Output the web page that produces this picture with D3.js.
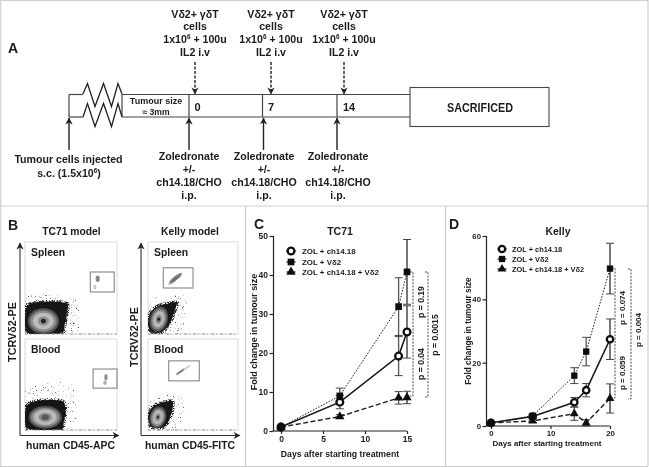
<!DOCTYPE html>
<html><head><meta charset="utf-8">
<script src="https://cdn.jsdelivr.net/npm/d3@7"></script>
<style>
html,body{margin:0;padding:0;background:#fff}
svg{display:block}
text{font-family:"Liberation Sans",Arial,sans-serif;font-weight:bold;fill:#1a1a1a}
</style></head><body>
<script>
// ---------- Panel C data ----------
const daysC = [0, 7, 14, 15];
const cZol = [1, 7.4, 19.2, 25.4];
const cZolErr = [0, 1.7, 5, 6.7];
const cVd2 = [1, 9, 31.9, 40.8];
const cVd2Err = [0, 2, 7.4, 8.3];
const cTri = [1, 3.7, 8.5, 8.6];
const cTriErr = [0, 0.5, 1.6, 1.6];
const ticksCy = [0, 10, 20, 30, 40, 50];
const ticksCx = [0, 5, 10, 15];
// ---------- Panel D data ----------
const daysD = [0, 7, 14, 16, 20];
const dZol = [1, 3, 7.5, 11.3, 27.4];
const dZolErr = [0, 0.5, 1.5, 2.1, 6.4];
const dVd2 = [1, 3.2, 15.9, 23.5, 49.7];
const dVd2Err = [0, 0.6, 2.5, 4.5, 8];
const dTri = [1, 1.6, 3.9, 1, 8.7];
const dTriErr = [0, 0.5, 2.1, 1, 4.6];
const ticksDy = [0, 20, 40, 60];
const ticksDx = [0, 10, 20];
const seriesNames = ["ZOL + ch14.18", "ZOL + V\u03b42", "ZOL + ch14.18 + V\u03b42"];
// ---------- Panel A schedule ----------
const treatDays = ["0", "7", "14"];
const topLabel = ["V\u03b42+ \u03b3\u03b4T", "cells", "1x10|6| + 100u", "IL2 i.v"];
const botLabel = ["Zoledronate", "+/-", "ch14.18/CHO", "i.p."];

const W = 649, H = 468;
const svg = d3.select("body").append("svg").attr("width", W).attr("height", H).attr("viewBox", `0 0 ${W} ${H}`);
const defs = svg.append("defs");
defs.append("filter").attr("id", "soft").attr("x", "-2%").attr("y", "-2%").attr("width", "104%").attr("height", "104%")
  .append("feGaussianBlur").attr("stdDeviation", 0.32);
defs.append("filter").attr("id", "blob").attr("x", "-30%").attr("y", "-30%").attr("width", "160%").attr("height", "160%")
  .append("feGaussianBlur").attr("stdDeviation", 0.7);
// stipple filters: dots of the flow cytometry scatter, made by the browser's noise primitive
const stipple = (id, slope, off, seed) => {
  const st = defs.append("filter").attr("id", id).attr("x", "-20%").attr("y", "-20%").attr("width", "140%").attr("height", "140%");
  st.append("feTurbulence").attr("type", "fractalNoise").attr("baseFrequency", 1.6).attr("numOctaves", 2).attr("seed", seed).attr("result", "n");
  st.append("feColorMatrix").attr("in", "n").attr("type", "matrix").attr("values", `0 0 0 0 0  0 0 0 0 0  0 0 0 0 0  ${slope} 0 0 0 ${off}`).attr("result", "m");
  st.append("feComposite").attr("in", "SourceGraphic").attr("in2", "m").attr("operator", "in").attr("result", "c");
  st.append("feGaussianBlur").attr("in", "c").attr("stdDeviation", 0.3);
};
stipple("sparse", 7, -4.6, 4);
stipple("dense", 7, -3.0, 9);

const arrow = (id, size) => {
  defs.append("marker").attr("id", id).attr("viewBox", "0 0 10 10").attr("refX", 9).attr("refY", 5)
    .attr("markerUnits", "userSpaceOnUse").attr("markerWidth", size).attr("markerHeight", size).attr("orient", "auto")
    .append("path").attr("d", "M1,0.5 L9.5,5 L1,9.5 L3.5,5 Z").attr("fill", "#222");
};
arrow("ah", 8);

const root = svg.append("g").attr("filter", "url(#soft)");
root.append("rect").attr("width", W).attr("height", H).attr("fill", "#fff");

// ---------- frame ----------
const frame = root.append("g").attr("stroke", "#cfcfcf").attr("fill", "none").attr("stroke-width", 1.2);
[[0.5,0.5,648,0.5],[0.8,0,0.8,466],[648,0,648,466],[0,206,648,206],[245.5,206,245.5,466],[445.5,206,445.5,466],[0,466.5,648,466.5]]
  .forEach(d => frame.append("line").attr("x1", d[0]).attr("y1", d[1]).attr("x2", d[2]).attr("y2", d[3]));

// ---------- panel letters ----------
const letter = (t, x, y) => root.append("text").text(t).attr("x", x).attr("y", y).attr("font-size", 14);
letter("A", 8, 53); letter("B", 8, 230); letter("C", 254, 229); letter("D", 449, 229);

// ---------- Panel A ----------
const A = root.append("g");
const tlTop = 94.5, tlBot = 117;
const ln = (g, x1, y1, x2, y2, w = 1.2, c = "#444") => g.append("line").attr("x1", x1).attr("y1", y1).attr("x2", x2).attr("y2", y2).attr("stroke", c).attr("stroke-width", w);
[[69, 83], [122, 410]].forEach(s => { ln(A, s[0], tlTop, s[1], tlTop); ln(A, s[0], tlBot, s[1], tlBot); });
[69, 122, 189, 262.5, 337].forEach(x => ln(A, x, tlTop, x, tlBot));
A.append("rect").attr("x", 410).attr("y", 87.5).attr("width", 139).attr("height", 39).attr("fill", "#fff").attr("stroke", "#444").attr("stroke-width", 1.1);
const zig = [[83,94],[87.5,83.5],[95,106.5],[103.5,83.5],[111.5,106.5],[118,83.5],[122,94]];
const zig2 = [[83,117],[87.5,103.5],[95,126.5],[103.5,103.5],[111.5,126.5],[118,103.5],[122,117]];
[zig, zig2].forEach(z => A.append("path").attr("d", d3.line()(z)).attr("fill", "none").attr("stroke", "#222").attr("stroke-width", 1.3));
const ctext = (g, t, x, y, fs) => {
  const el = g.append("text").attr("x", x).attr("y", y).attr("text-anchor", "middle").attr("font-size", fs);
  if (t.includes("|")) {
    const p = t.split("|");
    el.append("tspan").text(p[0]);
    el.append("tspan").text(p[1]).attr("font-size", fs * 0.6).attr("dy", -fs * 0.36);
    el.append("tspan").text(p[2]).attr("dy", fs * 0.36);
  } else el.text(t);
  return el;
};
ctext(A, "Tumour size", 156, 104, 9);
ctext(A, "\u2248 3mm", 156, 114.5, 8.6);
const topX = [195, 271, 344], upX = [189, 263.5, 337], botX = [189, 264, 338], dayLabX = [197.5, 271, 349];
treatDays.forEach((d, i) => {
  ctext(A, d, dayLabX[i], 111, 11);
  topLabel.forEach((t, j) => ctext(A, t, topX[i], [18, 30, 43, 56][j], 10.6));
  A.append("line").attr("x1", topX[i]).attr("x2", topX[i]).attr("y1", 62).attr("y2", 94)
    .attr("stroke", "#222").attr("stroke-width", 1.4).attr("stroke-dasharray", "3 1.5").attr("marker-end", "url(#ah)");
  A.append("line").attr("x1", upX[i]).attr("x2", upX[i]).attr("y1", 150).attr("y2", 118)
    .attr("stroke", "#222").attr("stroke-width", 1.4).attr("marker-end", "url(#ah)");
  botLabel.forEach((t, j) => ctext(A, t, botX[i], [160, 172.5, 185.5, 199][j], 10.6));
});
A.append("line").attr("x1", 69).attr("x2", 69).attr("y1", 150).attr("y2", 118).attr("stroke", "#222").attr("stroke-width", 1.4).attr("marker-end", "url(#ah)");
ctext(A, "Tumour cells injected", 68.5, 163, 10.6);
ctext(A, "s.c. (1.5x10|6|)", 69, 177, 10.6);
A.append("text").text("SACRIFICED").attr("x", 480).attr("y", 112).attr("text-anchor", "middle")
  .attr("font-size", 12).attr("textLength", 66).attr("lengthAdjust", "spacingAndGlyphs");

// ---------- Panel B ----------
const B = root.append("g");
ctext(B, "TC71 model", 71.5, 234.5, 10.3);
ctext(B, "Kelly model", 190, 234.5, 10.3);
const vtext = (g, t, x, y, fs) => g.append("text").text(t).attr("text-anchor", "middle").attr("font-size", fs)
  .attr("transform", `translate(${x},${y}) rotate(-90)`);
vtext(B, "TCRV\u03b42-PE", 16, 332, 10.8);
vtext(B, "TCRV\u03b42-PE", 138, 337, 10.8);
ctext(B, "human CD45-APC", 70.5, 449, 10.4);
ctext(B, "human CD45-FITC", 190, 449, 10.4);
[[20, 435.5, 20, 243], [20, 435.5, 119, 435.5], [141, 435.5, 141, 243], [141, 435.5, 240, 435.5]].forEach(a => {
  B.append("line").attr("x1", a[0]).attr("y1", a[1]).attr("x2", a[2]).attr("y2", a[3])
    .attr("stroke", "#333").attr("stroke-width", 1.1).attr("marker-end", "url(#ah)");
});

// fluorescence coordinates of each plot: x and y run 0..1 across the plot
const flowPanels = [
  { name: "Spleen", x: 25, y: 242, w: 92, h: 92, gate: [0.71, 0.457, 0.97, 0.674],
    pop: [[0.79, 0.60, 0.022, 0.035, 0, 0.8], [0.76, 0.51, 0.018, 0.025, 0, 0.35]],
    halo: [[0, 0], [0, .4], [.25, .43], [.55, .4], [.56, 0]],
    outer: [[.02, .02], [.0, .16], [.02, .3], [.12, .345], [.3, .35], [.46, .33], [.46, .25], [.43, .1], [.41, .02], [.2, 0]],
    rings: [[.2, .14, .17, .14, "#555"], [.2, .14, .145, .115, "#8a8a8a"], [.2, .14, .115, .09, "#bcbcbc"], [.2, .14, .06, .05, "#909090"], [.2, .14, .028, .025, "#222"]], rot: 0 },
  { name: "Blood", x: 25, y: 339, w: 92, h: 91, gate: [0.74, 0.46, 1, 0.67],
    pop: [[0.88, 0.58, 0.018, 0.035, 0, 0.7], [0.87, 0.52, 0.02, 0.025, 0, 0.5]],
    halo: [[0, 0], [0, .42], [.2, .5], [.4, .53], [.54, .5], [.56, .35], [.52, 0]],
    outer: [[.02, .02], [.0, .16], [.02, .27], [.12, .32], [.3, .33], [.42, .31], [.44, .2], [.42, .08], [.4, .01], [.2, 0]],
    rings: [[.22, .14, .18, .125, "#555"], [.22, .14, .155, .105, "#8a8a8a"], [.22, .14, .125, .085, "#b8b8b8"], [.22, .14, .07, .05, "#8c8c8c"], [.22, .14, .04, .03, "#555"]], rot: 0 },
  { name: "Spleen", x: 148, y: 242, w: 90, h: 92, gate: [0.17, 0.5, 0.5, 0.72],
    pop: [[0.31, 0.61, 0.085, 0.022, -38, 0.9], [0.27, 0.57, 0.05, 0.016, -38, 0.6]],
    halo: [[0, 0], [0, .3], [.1, .42], [.38, .44], [.44, .2], [.32, 0]],
    outer: [[.03, .03], [.0, .12], [.03, .24], [.12, .31], [.22, .33], [.32, .345], [.3, .26], [.26, .15], [.2, .06], [.12, .01]],
    rings: [[.12, .16, .1, .14, "#555"], [.12, .16, .08, .115, "#8a8a8a"], [.12, .16, .06, .09, "#bcbcbc"], [.12, .16, .032, .05, "#888"], [.12, .16, .016, .02, "#111"]], rot: 15 },
  { name: "Blood", x: 148, y: 339, w: 90, h: 91, gate: [0.23, 0.54, 0.57, 0.76],
    pop: [[0.36, 0.64, 0.06, 0.012, -35, 0.9], [0.44, 0.69, 0.04, 0.008, -35, 0.45]],
    halo: [[.02, 0], [0, .3], [.12, .39], [.36, .38], [.42, .2], [.34, 0]],
    outer: [[.03, .04], [.0, .13], [.03, .23], [.12, .29], [.27, .32], [.27, .22], [.23, .1], [.17, .03], [.09, .02]],
    rings: [[.11, .14, .09, .12, "#555"], [.11, .14, .075, .1, "#8a8a8a"], [.11, .14, .055, .08, "#b8b8b8"], [.11, .14, .028, .042, "#888"], [.11, .14, .013, .016, "#222"]], rot: 15 }
];
flowPanels.forEach((p, pi) => {
  const fx = d3.scaleLinear().domain([0, 1]).range([p.x, p.x + p.w]);
  const fy = d3.scaleLinear().domain([0, 1]).range([p.y + p.h, p.y]);
  const g = B.append("g");
  const cid = "clip" + pi;
  defs.append("clipPath").attr("id", cid).append("rect").attr("x", p.x).attr("y", p.y).attr("width", p.w).attr("height", p.h);
  g.append("rect").attr("x", p.x).attr("y", p.y).attr("width", p.w).attr("height", p.h).attr("fill", "#fff").attr("stroke", "#dcdcdc").attr("stroke-width", 1.1);
  const c = g.append("g").attr("clip-path", `url(#${cid})`);
  const shape = d3.line().x(d => fx(d[0])).y(d => fy(d[1])).curve(d3.curveCardinalClosed.tension(0.3));
  c.append("path").attr("d", shape(p.halo)).attr("fill", "#444").attr("filter", "url(#sparse)");
  c.append("path").attr("d", shape(p.outer)).attr("fill", "#222").attr("stroke", "#222").attr("stroke-width", 3.5).attr("filter", "url(#dense)");
  c.append("path").attr("d", shape(p.outer)).attr("fill", "#141414").attr("filter", "url(#blob)");
  p.rings.forEach(r => c.append("ellipse").attr("cx", 0).attr("cy", 0)
    .attr("rx", fx(r[2]) - fx(0)).attr("ry", fy(0) - fy(r[3])).attr("fill", r[4]).attr("filter", "url(#blob)")
    .attr("transform", `translate(${fx(r[0])},${fy(r[1])}) rotate(${p.rot})`));
  g.append("line").attr("x1", p.x).attr("x2", p.x + p.w).attr("y1", p.y + p.h).attr("y2", p.y + p.h)
    .attr("stroke", "#888").attr("stroke-width", 0.8).attr("stroke-dasharray", "3 2 1 3");
  p.pop.forEach(e => c.append("ellipse").attr("cx", 0).attr("cy", 0)
    .attr("rx", fx(e[2]) - fx(0)).attr("ry", fy(0) - fy(e[3])).attr("fill", "#666").attr("opacity", e[5]).attr("filter", "url(#blob)")
    .attr("transform", `translate(${fx(e[0])},${fy(e[1])}) rotate(${e[4]})`));
  g.append("rect").attr("x", fx(p.gate[0])).attr("y", fy(p.gate[3])).attr("width", fx(p.gate[2]) - fx(p.gate[0]))
    .attr("height", fy(p.gate[1]) - fy(p.gate[3])).attr("fill", "none").attr("stroke", "#8f8f8f").attr("stroke-width", 1.2);
  g.append("text").text(p.name).attr("x", p.x + 6).attr("y", p.y + 14).attr("font-size", 10.4);
});

// ---------- line charts ----------
function lineChart(o) {
  const g = root.append("g");
  const x = d3.scaleLinear().domain(o.xDom).range(o.xRange);
  const y = d3.scaleLinear().domain(o.yDom).range(o.yRange);
  const yAx = g.append("g").attr("transform", `translate(${o.axisX},0)`).call(d3.axisLeft(y).tickValues(o.yTicks).tickSize(4).tickPadding(1.5).tickFormat(d3.format("d")));
  const xAx = g.append("g").attr("transform", `translate(0,${o.yRange[0]})`).call(d3.axisBottom(x).tickValues(o.xTicks).tickSize(3).tickPadding(1.5).tickFormat(d3.format("d")));
  g.append("line").attr("x1", o.axisX).attr("x2", o.xRange[0]).attr("y1", o.yRange[0]).attr("y2", o.yRange[0]).attr("stroke", "#222").attr("stroke-width", 1.2);
  [yAx, xAx].forEach(a => {
    a.selectAll("path,line").attr("stroke", "#222").attr("stroke-width", 1.2);
    a.selectAll("text").attr("font-size", o.tickFs).attr("font-family", '"Liberation Sans",Arial,sans-serif').attr("font-weight", "bold");
    a.select("path.domain").attr("d", null);
  });
  yAx.append("line").attr("y1", o.yRange[0]).attr("y2", o.yRange[1]).attr("stroke", "#222").attr("stroke-width", 1.2);
  xAx.append("line").attr("x1", o.xRange[0]).attr("x2", o.xRange[1]).attr("stroke", "#222").attr("stroke-width", 1.2);
  const dash = [null, "1.5 1.5", "5 2.5"];
  const sym = [null, d3.symbolSquare, d3.symbolTriangle];
  const line = d3.line().x((d, i) => x(o.days[i])).y(d => y(d));
  // error bars
  o.series.forEach((s, k) => {
    o.days.forEach((d, i) => {
      if (!o.errs[k][i]) return;
      const hi = y(s[i] + o.errs[k][i]), lo = y(s[i] - o.errs[k][i]), cx = x(d);
      const last = i === o.days.length - 1;
      g.append("line").attr("x1", cx).attr("x2", cx).attr("y1", hi).attr("y2", lo).attr("stroke", last ? "#777" : "#555").attr("stroke-width", last ? 2 : 1.3);
      [hi, lo].forEach(yy => g.append("line").attr("x1", cx - 4).attr("x2", cx + 4).attr("y1", yy).attr("y2", yy).attr("stroke", "#444").attr("stroke-width", 1));
    });
  });
  const drawMark = (gg, k, cx, cy) => {
    if (k === 0) gg.append("circle").attr("cx", cx).attr("cy", cy).attr("r", o.r).attr("fill", "#fff").attr("stroke", "#111").attr("stroke-width", 2.3);
    else gg.append("path").attr("d", d3.symbol().type(sym[k]).size(k === 1 ? o.sq : o.tri)).attr("fill", "#111").attr("transform", `translate(${cx},${cy})`);
  };
  o.series.forEach((s, k) => {
    g.append("path").attr("d", line(s)).attr("fill", "none").attr("stroke", "#1a1a1a").attr("stroke-width", k === 1 ? 1 : k === 0 ? 1.6 : 1.4).attr("stroke-dasharray", dash[k]);
  });
  [0, 1, 2].forEach(k => o.series[k].forEach((v, i) => drawMark(g, k, x(o.days[i]), y(v))));
  // legend
  seriesNames.forEach((n, k) => {
    const ly = o.legY[k];
    g.append("line").attr("x1", o.legX - 4.5).attr("x2", o.legX + 4.5).attr("y1", ly).attr("y2", ly).attr("stroke", "#111").attr("stroke-width", 1.2);
    drawMark(g, k, o.legX, ly);
    g.append("text").text(n).attr("x", o.legTx).attr("y", ly + 2.7).attr("font-size", o.legFs);
  });
  ctext(g, o.title, o.titleX, 235, 10.5);
  ctext(g, "Days after starting treatment", o.xtX, o.xtY, o.axFs);
  vtext(g, "Fold change in tumour size", o.ytX, o.ytY, o.axFs + 0.3);
  // significance brackets
  o.brackets.forEach(b => {
    g.append("path").attr("d", `M${b[0]},${b[1]} H${b[2]} V${b[3]} H${b[0]}`).attr("fill", "none")
      .attr("stroke", "#333").attr("stroke-width", 0.9).attr("stroke-dasharray", "2 1.3");
  });
  o.pvals.forEach(p => vtext(g, p[0], p[1], p[2], o.pFs));
}
lineChart({
  days: daysC, series: [cZol, cVd2, cTri], errs: [cZolErr, cVd2Err, cTriErr],
  xDom: [0, 15], xRange: [281, 407], yDom: [0, 50], yRange: [431, 236], axisX: 273.5,
  yTicks: ticksCy, xTicks: ticksCx, tickFs: 8.5, axFs: 8.7, pFs: 8.6, legFs: 7.9, r: 3.4, sq: 45, tri: 38,
  legX: 291, legTx: 302, legY: [251, 262, 272], title: "TC71", titleX: 340,
  xtX: 340, xtY: 457, ytX: 257, ytY: 332,
  brackets: [[410, 272, 413, 396], [425, 272, 428, 397]],
  pvals: [["p = 0.19", 424, 302], ["p = 0.04", 424, 364], ["p = 0.0015", 438, 335]]
});
lineChart({
  days: daysD, series: [dZol, dVd2, dTri], errs: [dZolErr, dVd2Err, dTriErr],
  xDom: [0, 20], xRange: [491, 610], yDom: [0, 60], yRange: [426, 236], axisX: 486.5,
  yTicks: ticksDy, xTicks: ticksDx, tickFs: 7.8, axFs: 8, pFs: 8, legFs: 7.4, r: 3.2, sq: 40, tri: 34,
  legX: 502, legTx: 512, legY: [249, 259, 269], title: "Kelly", titleX: 558,
  xtX: 547, xtY: 446, ytX: 471, ytY: 331,
  brackets: [[612, 268, 615, 398], [628, 269, 631, 399]],
  pvals: [["p = 0.074", 625, 308], ["p = 0.059", 625, 373], ["p = 0.004", 641, 330]]
});
</script>
</body></html>
